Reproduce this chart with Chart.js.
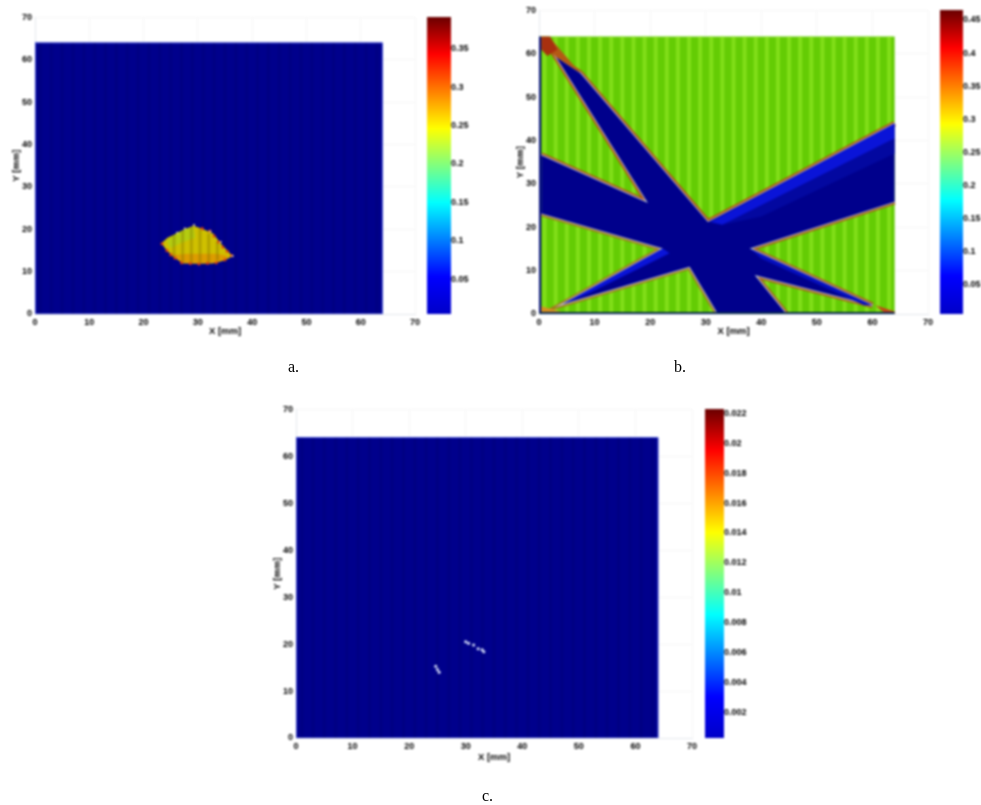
<!DOCTYPE html>
<html>
<head>
<meta charset="utf-8">
<title>Fields</title>
<script src="https://cdn.jsdelivr.net/npm/chart.js@4"></script>
<style>
html,body{margin:0;padding:0;background:#fff;width:981px;height:805px;overflow:hidden}
canvas{position:absolute;filter:blur(0.8px)}
.cap{position:absolute;font:16px "Liberation Serif",serif;color:#000;filter:blur(0.3px)}
</style>
</head>
<body>
<canvas id="mapA"></canvas><canvas id="barA"></canvas>
<canvas id="mapB"></canvas><canvas id="barB"></canvas>
<canvas id="mapC"></canvas><canvas id="barC"></canvas>
<div class="cap" style="left:288px;top:358px">a.</div>
<div class="cap" style="left:674px;top:358px">b.</div>
<div class="cap" style="left:482px;top:787px">c.</div>
<script>
const axisTicks=[0,10,20,30,40,50,60,70]
const meshX=[1,3,5,7,9,11,13,15,17,19,21,23,25,27,29,31,33,35,37,39,41,43,45,47,49,51,53,55,57,59,61,63]
const domainX=[0,64,64,0]
const domainY=[0,0,64,64]

// panel a, bright blob
const blobX=[23.3,24.4,26.1,27.6,29.2,31,32.8,34.3,36.4,34.8,32.8,30,27.3,25.6,24.2]
const blobY=[16.7,18,19,20,20.8,20,19,16.5,13.6,12.6,12,11.9,12,13.4,15.1]
const blobLowX=[25,26,28,31,33.5,35.7,34.8,32.8,30,27.3,25.6]
const blobLowY=[14.6,14,14.2,14.2,14.2,13.7,12.6,12,11.9,12,13.4]
const blobTopX=[24.2,26,27.6,29.2,29.5,27,25]
const blobTopY=[17.2,19,20,20.6,18,16.8,15.6]
const blobStripeX=[25.6,27.2,28.8,30.4,32,33.6]
const blobStripeLo=[13.4,12.2,12,12,12,12.6]
const blobStripeHi=[18.6,19.7,20.6,20.2,19,17.2]
const blobDotX=[23.4,30.8,32.2,33,33.8,34.6,35.4,36.2,35,33.4,31.8,30.2,28.6,27,25.8,25,24.3]
const blobDotY=[16.6,20.2,19.6,18.4,17,15.8,14.8,13.8,12.8,12.1,12,11.8,11.9,12.1,13.2,14,15]
const blobGlintX=[29.3,27.6,26.2,32.3,34.2,36.4]
const blobGlintY=[21,20.2,19.2,19.5,17,13.7]
const cbarTicksA=[0.05,0.1,0.15,0.2,0.25,0.3,0.35]

// panel b, dark star over the green field
const starX=[3.1,7.45,30.4,64,64,37.9,60,38.8,44.5,32.2,27.1,4.3,22.3,0.4,0.4,19.6]
const starY=[59.2,55.5,21.2,43.9,25.9,15.1,2,9,0,0,10.9,2.3,15.1,23.2,36.6,25.6]
const tipX=[1.9,7.45,3.1,0.6]
const tipY=[63.8,55.5,59.2,62.4]
const glowRightX=[30.8,64,64,33]
const glowRightY=[21.2,43.9,40.5,20.6]
const haloRightX=[33,64,64,40]
const haloRightY=[20.6,40.5,37,22.5]
const glowLeftX=[4.3,22.3,23.5,9]
const glowLeftY=[2.3,15.1,14,4.8]
const glowLowX=[37.9,60,58.5,40]
const glowLowY=[15.1,2,2,12.8]
const wedgeTopX=[0.4,2,3.3,1.5,0.4]
const wedgeTopY=[64,64,61,59.5,61]
const wedgeLeftX=[0.4,4.6,0.4]
const wedgeLeftY=[0.3,0.3,1.8]
const wedgeRightX=[60.5,64,64,62.5]
const wedgeRightY=[2,0.6,0,0]
const cbarTicksB=[0.05,0.1,0.15,0.2,0.25,0.3,0.35,0.4,0.45]

// panel c, a few isolated spots
const spotX=[30,30.5,31.4,32.2,32.9,33.2,24.7,25,25.3]
const spotY=[20.5,20.2,19.8,19,18.8,18.4,15.3,14.6,14]
const cbarTicksC=[0.002,0.004,0.006,0.008,0.01,0.012,0.014,0.016,0.018,0.02,0.022]

const jetStops=[0,0.125,0.375,0.625,0.875,1]
const jetColors=['#0000c8','#0000ff','#00ffff','#ffff00','#ff0000','#6a0000']

const zip=(xs,ys)=>xs.map((x,i)=>({x:x,y:ys[i]}))
const ring=(xs,ys)=>{const p=zip(xs,ys);p.push(p[0]);return p}

function poly(xs,ys,fill,strokeColor,width){
    return {data:ring(xs,ys),showLine:true,fill:'shape',backgroundColor:fill,
        borderColor:strokeColor||fill,borderWidth:width||0,pointRadius:0}
}
function stroke(points,color,width,dash){
    return {data:points,showLine:true,fill:false,borderColor:color,borderWidth:width,
        borderDash:dash||[],pointRadius:0}
}
function dots(xs,ys,color,radius){
    return {data:zip(xs,ys),showLine:false,backgroundColor:color,borderWidth:0,pointRadius:radius}
}
function meshLines(color,width){
    return meshX.map(x=>stroke([{x:x,y:0},{x:x,y:64}],color,width))
}

const tickFont={family:'Liberation Sans',size:9,weight:'bold'}

function drawMap(id,box,layers){
    const el=document.getElementById(id)
    el.width=box.x70-box.x0+47
    el.height=box.y0-box.y70+40
    el.style.left=(box.x0-35)+'px'
    el.style.top=(box.y70-8)+'px'
    const axis=(title,isX)=>({
        type:'linear',min:0,max:70,
        afterBuildTicks:s=>{s.ticks=axisTicks.map(v=>({value:v}))},
        afterFit:s=>{if(isX)s.height=box.xBand;else s.width=25},
        ticks:{color:'#000',font:tickFont,padding:3,maxRotation:0,autoSkip:false},
        grid:{color:'#f6f6f6',tickLength:0},
        border:{color:'#e4e7ee'},
        title:{display:true,text:title,color:'#000',font:{family:'Liberation Sans',size:9.5,weight:'bold'},padding:{top:1,bottom:1}}
    })
    return new Chart(el,{
        type:'scatter',
        data:{datasets:layers.slice().reverse()},
        options:{
            responsive:false,animation:false,
            layout:{padding:{top:8,right:12,left:10,bottom:32-box.xBand}},
            scales:{x:axis('X [mm]',true),y:axis('Y [mm]',false)},
            plugins:{legend:{display:false},tooltip:{enabled:false}}
        }
    })
}

function drawBar(id,box,range,ticks){
    const el=document.getElementById(id)
    el.width=box.w+40
    el.height=box.bottom-box.top+14
    el.style.left=box.left+'px'
    el.style.top=(box.top-7)+'px'
    return new Chart(el,{
        type:'bar',
        data:{labels:[''],datasets:[{
            data:[range],
            barPercentage:1,categoryPercentage:1,
            backgroundColor:c=>{
                const a=c.chart.chartArea
                if(!a)return jetColors[0]
                const g=c.chart.ctx.createLinearGradient(0,a.bottom,0,a.top)
                jetStops.forEach((s,i)=>g.addColorStop(s,jetColors[i]))
                return g
            }
        }]},
        options:{
            responsive:false,animation:false,
            layout:{padding:{top:7,bottom:7,left:0,right:0}},
            scales:{
                x:{display:false},
                y:{
                    position:'right',min:range[0],max:range[1],
                    afterBuildTicks:s=>{s.ticks=ticks.map(v=>({value:v}))},
                    afterFit:s=>{s.width=40},
                    ticks:{color:'#000',font:tickFont,padding:0,autoSkip:false,callback:v=>String(v)},
                    grid:{display:false,drawTicks:false,tickLength:0},
                    border:{display:false}
                }
            },
            plugins:{legend:{display:false},tooltip:{enabled:false}}
        }
    })
}

const navy='#00008c'

drawMap('mapA',{x0:35,x70:415,y0:314,y70:17,xBand:24},[
    poly(domainX,domainY,navy,'#3c4ad8',1),
    ...meshLines('rgba(0,0,60,0.1)',3),
    poly(blobX,blobY,'#cfc000'),
    poly(blobLowX,blobLowY,'#dc9c00'),
    poly(blobTopX,blobTopY,'#b4cc10'),
    ...blobStripeX.map((x,i)=>stroke([{x:x,y:blobStripeLo[i]},{x:x,y:blobStripeHi[i]}],'rgba(120,110,0,0.35)',3)),
    dots(blobDotX,blobDotY,'#e0400f',1.5),
    dots(blobGlintX,blobGlintY,'#f4e6b0',1)
])
drawBar('barA',{left:427,w:24,top:17,bottom:314},[0.0045,0.3916],cbarTicksA)

// outline chains, the fill is painted last so only the outer half of each stroke shows
const starPts=zip(starX,starY)
const chainUp=[...starPts.slice(14),...starPts.slice(0,4)]
const chainLow=starPts.slice(4,9)
const chainLeft=starPts.slice(9,14)
const edge=(pts,col)=>[stroke(pts,col,5.5),stroke(pts,'#b9c2d4',2)]

drawMap('mapB',{x0:539,x70:928,y0:314,y70:10,xBand:24},[
    poly(domainX,domainY,'#64cc04'),
    ...meshLines('rgba(150,235,40,0.6)',4),
    ...edge(chainUp,'#b0500f'),
    ...edge(chainLow,'#a8601a'),
    ...edge(chainLeft,'#a07a1c'),
    poly(tipX,tipY,'#b45a14'),
    poly(starX,starY,navy),
    poly(haloRightX,haloRightY,'#0308a0'),
    poly(glowRightX,glowRightY,'#0a14d8'),
    poly(glowLeftX,glowLeftY,'#0a14d8'),
    poly(glowLowX,glowLowY,'#0610c0'),
    poly(wedgeTopX,wedgeTopY,'#a8300f'),
    poly(wedgeLeftX,wedgeLeftY,'#d89020'),
    poly(wedgeRightX,wedgeRightY,'#c8401a'),
    stroke([{x:0.2,y:0},{x:0.2,y:64}],navy,2),
    stroke([{x:0,y:0.2},{x:64,y:0.2}],'#0a2a50',2.5)
])
drawBar('barB',{left:940,w:23,top:10,bottom:314},[0.006,0.465],cbarTicksB)

drawMap('mapC',{x0:296,x70:692,y0:738,y70:409,xBand:26},[
    poly(domainX,domainY,navy,'#3c4ad8',1),
    ...meshLines('rgba(0,0,60,0.1)',3),
    dots(spotX,spotY,'#dfe8ff',1.5)
])
drawBar('barC',{left:705,w:19,top:409,bottom:738},[0.00026,0.0223],cbarTicksC)
</script>
</body>
</html>
